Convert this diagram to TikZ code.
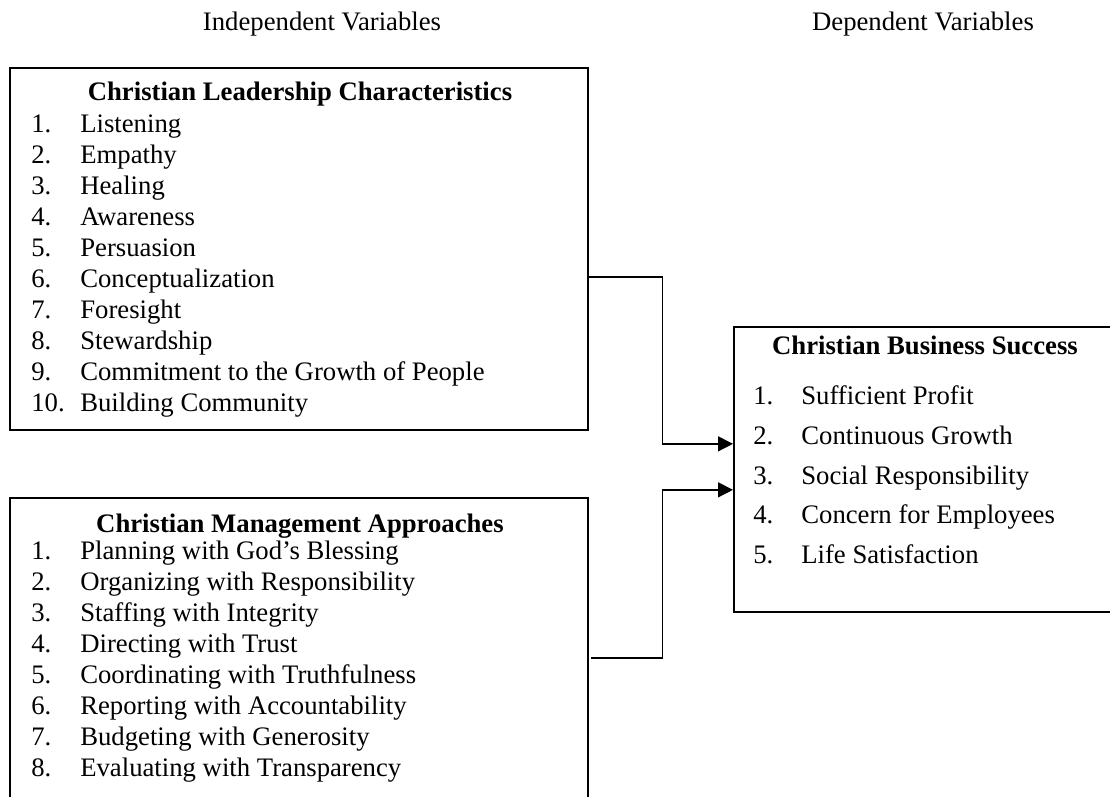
\documentclass[tikz,border=0pt]{standalone}
\usepackage{fontspec}
\setmainfont{Liberation Serif}
\usetikzlibrary{arrows.meta}

\begin{document}
\begin{tikzpicture}[x=0.02cm,y=-0.02cm,
    every node/.style={font=\fontsize{15.2}{17.6}\selectfont, inner sep=0pt},
    varbox/.style={draw, line width=1pt, anchor=north west},
    title/.style={font=\fontsize{15.2}{17.6}\selectfont\bfseries, anchor=base},
    items/.style={anchor=base west},
    link/.style={line width=0.8pt, -{Triangle[length=0.3cm,width=0.3cm]}}]
    \clip (0,0) rectangle (1110,797);
    % column headings
    \node[anchor=base] (indep) at (322,31) {Independent Variables};
    \node[anchor=base] (dep) at (923,31) {Dependent Variables};
    % boxes
    \node[varbox, minimum width=11.56cm, minimum height=7.24cm] (lead) at (9,67) {};
    \node[varbox, minimum width=11.56cm, minimum height=6.8cm] (mgmt) at (9,497) {};
    \node[varbox, minimum width=8cm, minimum height=5.7cm] (success) at (733,326) {};
    % box contents
    \node[title] (leadtitle) at (300,101) {Christian Leadership Characteristics};
    \node[items] (leadlist) at (31,133) {\begin{tabular}[t]{@{}p{0.98cm}@{}l@{}}
        1. & Listening\\
        2. & Empathy\\
        3. & Healing\\
        4. & Awareness\\
        5. & Persuasion\\
        6. & Conceptualization\\
        7. & Foresight\\
        8. & Stewardship\\
        9. & Commitment to the Growth of People\\
        10. & Building Community
      \end{tabular}};
    \node[title] (mgmttitle) at (300,533) {Christian Management Approaches};
    \node[items] (mgmtlist) at (31,560) {\begin{tabular}[t]{@{}p{0.98cm}@{}l@{}}
        1. & Planning with God’s Blessing\\
        2. & Organizing with Responsibility\\
        3. & Staffing with Integrity\\
        4. & Directing with Trust\\
        5. & Coordinating with Truthfulness\\
        6. & Reporting with Accountability\\
        7. & Budgeting with Generosity\\
        8. & Evaluating with Transparency
      \end{tabular}};
    \node[title] (successtitle) at (925,355) {Christian Business Success};
    \node[items] (successlist) at (753,405) {\renewcommand{\arraystretch}{1.28}%
      \begin{tabular}[t]{@{}p{0.96cm}@{}l@{}}
        1. & Sufficient Profit\\
        2. & Continuous Growth\\
        3. & Social Responsibility\\
        4. & Concern for Employees\\
        5. & Life Satisfaction
      \end{tabular}};
    % connectors
    \draw[link] ([yshift=-0.56cm]lead.east) -- ++(74,0) |- ([yshift=0.51cm]success.west);
    \draw[link] ([yshift=0.2cm]mgmt.east) ++(2,0) -- ++(72,0) |- ([yshift=-0.41cm]success.west);
\end{tikzpicture}
\end{document}
